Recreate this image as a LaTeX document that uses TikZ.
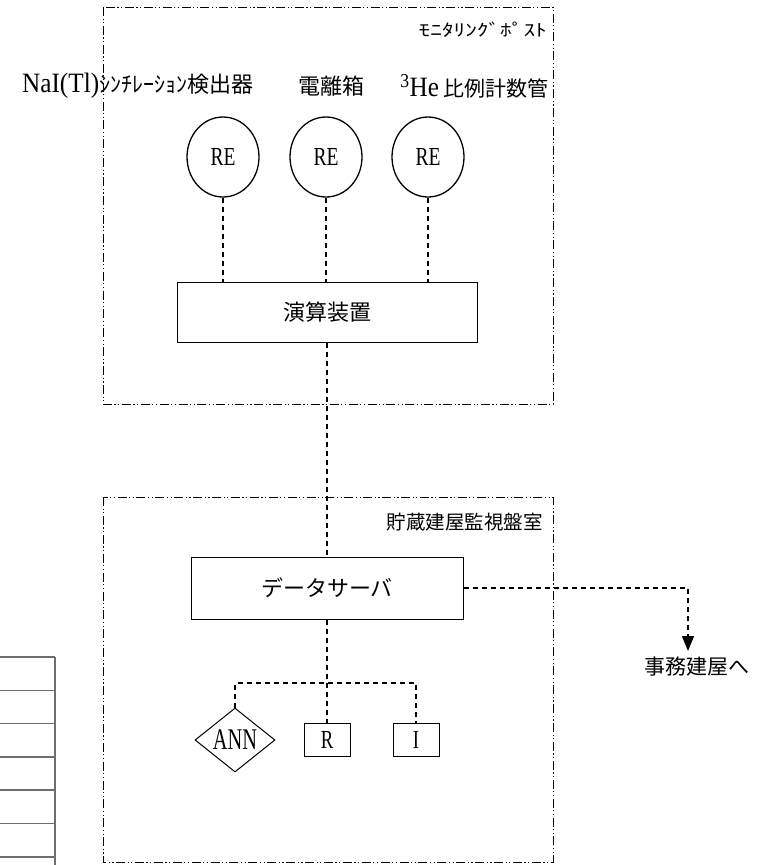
\documentclass[tikz,border=0pt]{standalone}
\usepackage{fontspec}
\setmainfont{Liberation Serif}
\newfontfamily\cjk{Noto Sans CJK JP}
\usetikzlibrary{arrows.meta,shapes.geometric}
\definecolor{tablegray}{RGB}{110,110,110}
\newcommand{\latn}[1]{{\rmfamily\fontsize{28}{28}\selectfont\scalebox{0.9}[1]{#1}}}
\tikzset{
  zone/.style={draw, line width=0.9pt, dash pattern=on 9pt off 2.5pt on 1.2pt off 2.5pt on 1.2pt off 2.5pt},
  link/.style={line width=1.1pt, dash pattern=on 5pt off 4pt},
  trunk/.style={link, line width=1.5pt},
  sensor/.style={ellipse, draw, line width=1.3pt, minimum width=72pt, minimum height=80pt, inner sep=0pt,
    font=\fontsize{26}{26}\selectfont},
  unit/.style={rectangle, draw, line width=1pt, inner sep=0pt, font=\cjk\fontsize{22}{24}\selectfont},
  small/.style={rectangle, draw, line width=1pt, inner sep=0pt, font=\fontsize{26}{26}\selectfont},
  lbl/.style={inner sep=0pt, font=\cjk\fontsize{22}{24}\selectfont},
  zonelbl/.style={inner sep=0pt, anchor=east, font=\cjk\fontsize{19.5}{20}\selectfont},
  tbl/.style={draw=tablegray, line width=1.4pt}
}
\begin{document}
\begin{tikzpicture}[x=1pt,y=-1pt]
\useasboundingbox (0,0) rectangle (767,865);
% zones
\draw[zone] (103,7) rectangle (553,404);
\draw[zone] (103,497) rectangle (553,862);
\node[zonelbl, font=\cjk\fontsize{17}{18}\selectfont] (mplbl) at (547,30) {\scalebox{1.37}[1]{ﾓﾆﾀﾘﾝｸﾞﾎﾟｽﾄ}};
\node[zonelbl] (rmlbl) at (543,522) {貯蔵建屋監視盤室};
% detector labels
\node[lbl, anchor=west] (l1) at (22,86) {\latn{NaI(Tl)}ｼﾝﾁﾚｰｼｮﾝ検出器};
\node[lbl] (l2) at (331,86) {電離箱};
\node[lbl, anchor=east, font=\cjk\fontsize{21}{24}\selectfont] (l3) at (549,86) {\latn{\textsuperscript{3}He} 比例計数管};
% sensors
\node[sensor] (c1) at (223,157) {\scalebox{0.75}[1]{RE}};
\node[sensor] (c2) at (326,157) {\scalebox{0.75}[1]{RE}};
\node[sensor] (c3) at (428,157) {\scalebox{0.75}[1]{RE}};
% processing unit
\node[unit, minimum width=300pt, minimum height=60pt] (calc) at (327,312) {演算装置};
% data server
\node[unit, minimum width=272pt, minimum height=62pt] (ds) at (327,588) {データサーバ};
% indicators
\node[diamond, draw, line width=1pt, inner sep=0pt, minimum width=80pt, minimum height=30pt,
  font=\fontsize{30}{30}\selectfont] (ann) at (235,740) {\scalebox{0.68}[1]{ANN}};
\node[small, minimum width=46pt, minimum height=33pt] (r) at (327,740) {\scalebox{0.72}[1]{R}};
\node[small, minimum width=46pt, minimum height=33pt] (i) at (416,740) {\scalebox{0.72}[1]{I}};
% office
\node[inner sep=0pt, font=\cjk\fontsize{21}{22}\selectfont] (office) at (697,667) {事務建屋へ};
\coordinate (jy) at (0,683);
\coordinate (tip) at (688,651);
% connectors
\draw[link] (c1.south) -- (c1.south |- calc.north);
\draw[link] (c2.south) -- (c2.south |- calc.north);
\draw[link] (c3.south) -- (c3.south |- calc.north);
\draw[trunk] (calc.south -| ds.north) -- (ds.north);
\draw[trunk] (ds.south -| r.north) -- (r.north);
\draw[link] (ann.north) -- (ann.north |- jy) -- (i.north |- jy) -- (i.north);
\draw[trunk, -{Triangle[length=15pt,width=12pt]}] (ds.east) -- (ds.east -| tip) -- (tip);
% partial table at left
\draw[tbl] (55,657) -- (55,865);
\foreach \yy in {657,690.5,723.5,757,790,823.5,857}
  \draw[tbl] (0,\yy) -- (55,\yy);
\end{tikzpicture}
\end{document}
